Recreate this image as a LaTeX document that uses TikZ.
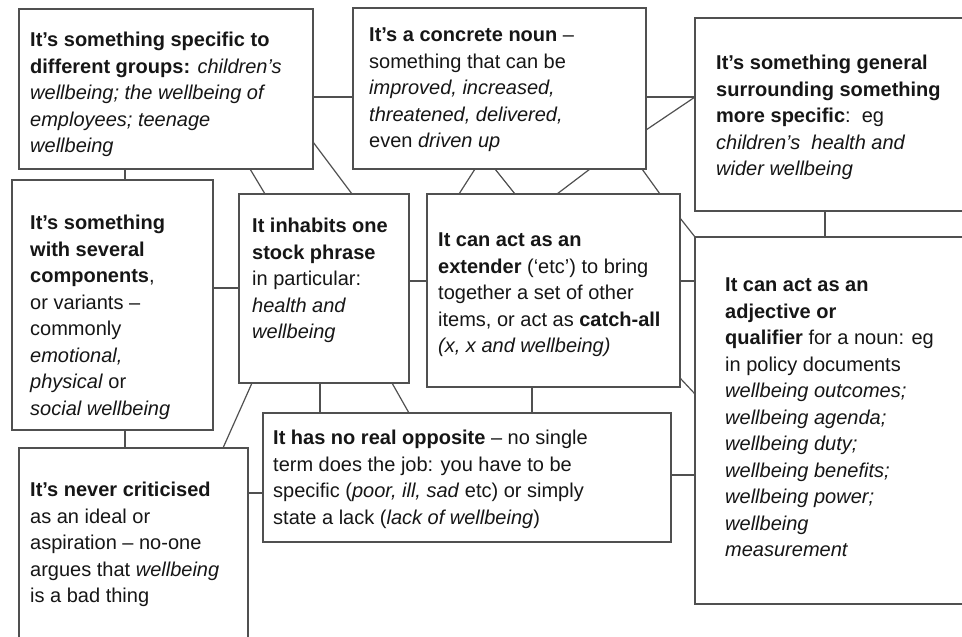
\documentclass[tikz,border=0pt]{standalone}
\usepackage{fontspec}
\setmainfont{Liberation Sans}
\usetikzlibrary{calc}
\definecolor{rule}{HTML}{505050}
\definecolor{ink}{HTML}{161616}
\begin{document}
\begin{tikzpicture}[x=1pt,y=-1pt,
  box/.style={draw=rule, line width=1.6pt, inner sep=0pt, outer sep=0pt},
  txt/.style={anchor=north west, align=left, inner sep=0pt, text=ink,
              font={\fontsize{20}{26.5}\selectfont}},
  link/.style={draw=rule, line width=1.2pt}]

\useasboundingbox[fill=white] (0,0) rectangle (962,637);

% boxes
\node[box, minimum width=294pt, minimum height=160pt] (A) at (166,89) {};
\node[box, minimum width=293pt, minimum height=161pt] (B) at (499.5,88.5) {};
\node[box, minimum width=275pt, minimum height=193pt] (C) at (832.5,114.5) {};
\node[box, minimum width=201pt, minimum height=250pt] (D) at (112.5,305) {};
\node[box, minimum width=170pt, minimum height=189pt] (E) at (324,288.5) {};
\node[box, minimum width=253pt, minimum height=193pt] (F) at (553.5,290.5) {};
\node[box, minimum width=275pt, minimum height=367pt] (G) at (832.5,420.5) {};
\node[box, minimum width=229pt, minimum height=202pt] (H) at (133.5,549) {};
\node[box, minimum width=408pt, minimum height=129pt] (I) at (467,477.5) {};

% connectors
\draw[link] ($(A.north east)+(0,88)$) coordinate (p) -- (p -| B.west);
\draw[link] ($(A.south west)+(106,0)$) coordinate (p) -- (p |- D.north);
\draw[link] ($(A.south west)+(231,0)$) -- ($(E.north west)+(26,0)$);
\draw[link] ($(A.north east)+(0,133)$) -- ($(E.north west)+(113,0)$);
\draw[link] ($(B.north east)+(0,89)$) coordinate (p) -- (p -| C.west);
\draw[link] ($(B.north east)+(0,122)$) -- ($(C.north west)+(0,79)$);
\draw[link] ($(B.south west)+(122,0)$) -- ($(F.north west)+(32,0)$);
\draw[link] ($(B.south west)+(142,0)$) -- ($(F.north west)+(88,0)$);
\draw[link] ($(B.south west)+(237,0)$) -- ($(F.north west)+(130,0)$);
\draw[link] ($(B.south west)+(289,0)$) -- ($(F.north west)+(233,0)$);
\draw[link] ($(C.south west)+(130,0)$) coordinate (p) -- (p |- G.north);
\draw[link] ($(F.north east)+(0,24)$) -- (G.north west);
\draw[link] ($(F.north east)+(0,87)$) coordinate (p) -- (p -| G.west);
\draw[link] ($(F.south east)+(0,-9)$) -- ($(G.north west)+(0,157)$);
\draw[link] ($(D.north east)+(0,108)$) coordinate (p) -- (p -| E.west);
\draw[link] ($(E.north east)+(0,87)$) coordinate (p) -- (p -| F.west);
\draw[link] ($(D.south west)+(113,0)$) coordinate (p) -- (p |- H.north);
\draw[link] ($(E.south west)+(13,0)$) -- ($(H.north west)+(204,0)$);
\draw[link] ($(E.south west)+(81,0)$) coordinate (p) -- (p |- I.north);
\draw[link] ($(E.south west)+(153,0)$) -- ($(I.north west)+(146,0)$);
\draw[link] ($(H.north east)+(0,45)$) coordinate (p) -- (p -| I.west);
\draw[link] ($(F.south west)+(105,0)$) coordinate (p) -- (p |- I.north);
\draw[link] ($(I.north east)+(0,62)$) coordinate (p) -- (p -| G.west);

% texts
\node[txt] (tA) at (30,32) {\textbf{It’s something specific to}\\
  \textbf{different groups:} \textit{children’s}\\
  \textit{wellbeing; the wellbeing of}\\
  \textit{employees; teenage}\\
  \textit{wellbeing}};
\node[txt] (tB) at (369,28) {\textbf{It’s a concrete noun} –\\
  something that can be\\
  \textit{improved, increased,}\\
  \textit{threatened, delivered,}\\
  even \textit{driven up}};
\node[txt] (tC) at (716,55) {\textbf{It’s something general}\\
  \textbf{surrounding something}\\
  \textbf{more specific}:\ \ eg\\
  \textit{children’s\ \ health and}\\
  \textit{wider wellbeing}};
\node[txt] (tD) at (30,215) {\textbf{It’s something}\\
  \textbf{with several}\\
  \textbf{components},\\
  or variants –\\
  commonly\\
  \textit{emotional,}\\
  \textit{physical} or\\
  \textit{social wellbeing}};
\node[txt] (tE) at (252,218) {\textbf{It inhabits one}\\
  \textbf{stock phrase}\\
  in particular:\\
  \textit{health and}\\
  \textit{wellbeing}};
\node[txt] (tF) at (438,233) {\textbf{It can act as an}\\
  \textbf{extender} (‘etc’) to bring\\
  together a set of other\\
  items, or act as \textbf{catch-all}\\
  \textit{(x, x and wellbeing)}};
\node[txt] (tG) at (725,278) {\textbf{It can act as an}\\
  \textbf{adjective or}\\
  \textbf{qualifier} for a noun: eg\\
  in policy documents\\
  \textit{wellbeing outcomes;}\\
  \textit{wellbeing agenda;}\\
  \textit{wellbeing duty;}\\
  \textit{wellbeing benefits;}\\
  \textit{wellbeing power;}\\
  \textit{wellbeing}\\
  \textit{measurement}};
\node[txt] (tH) at (30,482) {\textbf{It’s never criticised}\\
  as an ideal or\\
  aspiration – no-one\\
  argues that \textit{wellbeing}\\
  is a bad thing};
\node[txt] (tI) at (273,430) {\textbf{It has no real opposite} – no single\\
  term does the job: you have to be\\
  specific (\textit{poor, ill, sad} etc) or simply\\
  state a lack (\textit{lack of wellbeing})};
\end{tikzpicture}
\end{document}
